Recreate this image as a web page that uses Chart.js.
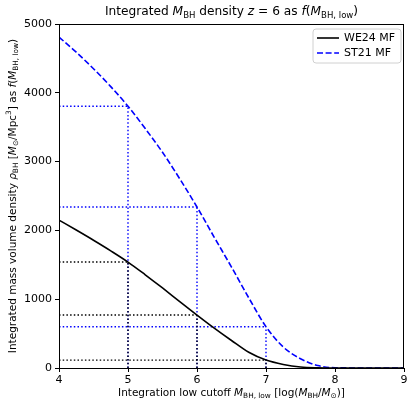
<!DOCTYPE html>
<html>
<head>
<meta charset="utf-8">
<script src="https://cdn.jsdelivr.net/npm/chart.js@4"></script>
<style>
html,body{margin:0;padding:0;background:#fff;}
#wrap{width:415px;height:408px;}
</style>
</head>
<body>
<div id="wrap"><canvas id="c" width="415" height="408"></canvas></div>
<script>
// ---- data ----
const cutoffs = [4, 4.25, 4.5, 4.75, 5, 5.25, 5.5, 5.75, 6, 6.25, 6.5, 6.75, 7, 7.25, 7.5, 7.75, 8, 8.5, 9];
const we24 = [2150, 2005, 1857, 1703, 1540, 1355, 1163, 965, 770, 580, 400, 228, 115, 52, 15, 3, 0, 0, 0];
const st21 = [4810, 4590, 4350, 4090, 3805, 3480, 3135, 2750, 2340, 1900, 1467, 1020, 600, 305, 135, 35, 4, 0, 0];
const markCuts = [5, 6, 7];
const xTicks = [4, 5, 6, 7, 8, 9];
const yTicks = [0, 1000, 2000, 3000, 4000, 5000];
const seriesNames = ['WE24 MF', 'ST21 MF'];

const FONT = "'DejaVu Sans', sans-serif";
const BLACK = '#000000', BLUE = '#0000ff';

function pts(xs, ys){ return xs.map((x,i)=>({x:x, y:ys[i]})); }

const datasets = [
  {label: seriesNames[0], data: pts(cutoffs, we24), borderColor: BLACK, borderWidth: 1.6,
   pointRadius: 0, cubicInterpolationMode: 'monotone', fill: false, order: 0, main: true},
  {label: seriesNames[1], data: pts(cutoffs, st21), borderColor: BLUE, borderWidth: 1.6,
   borderDash: [6, 2.6], pointRadius: 0, cubicInterpolationMode: 'monotone', fill: false, order: 1, main: true}
];
[[we24, BLACK], [st21, BLUE]].forEach(([arr, col], si) => {
  markCuts.forEach(k => {
    const v = arr[cutoffs.indexOf(k)];
    datasets.push({label: '_h', data: [{x: xTicks[0], y: v}, {x: k, y: v}], borderColor: col, borderWidth: 1.4,
      borderDash: [1.5, 2.2], pointRadius: 0, fill: false, order: 3 + si});
    datasets.push({label: '_v', data: [{x: k, y: yTicks[0]}, {x: k, y: v}], borderColor: col, borderWidth: 1.4,
      borderDash: [1.5, 2.2], pointRadius: 0, fill: false, order: 3 + si});
  });
});

// rich text helper
function segFont(s, size){
  const sz = (s.s || s.p) ? size * 0.7 : size;
  return (s.i ? 'italic ' : '') + sz + 'px ' + FONT;
}
function richWidth(ctx, segs, size){
  let w = 0;
  segs.forEach(s => { ctx.font = segFont(s, size); w += ctx.measureText(s.t).width; });
  return w;
}
function drawRich(ctx, segs, cx, cy, size){
  const w = richWidth(ctx, segs, size);
  let x = cx - w / 2;
  ctx.textBaseline = 'middle';
  ctx.textAlign = 'left';
  ctx.fillStyle = '#000';
  segs.forEach(s => {
    ctx.font = segFont(s, size);
    let dy = 0;
    if (s.s) dy = size * 0.28;
    if (s.p) dy = -size * 0.35;
    ctx.fillText(s.t, x, cy + dy);
    x += ctx.measureText(s.t).width;
  });
}

const titleSegs = [{t:'Integrated '},{t:'M',i:1},{t:'BH',s:1},{t:' density '},{t:'z',i:1},{t:' = 6 as '},
  {t:'f',i:1},{t:'('},{t:'M',i:1},{t:'BH, low',s:1},{t:')'}];
const xLabelSegs = [{t:'Integration low cutoff '},{t:'M',i:1},{t:'BH, low',s:1},{t:' [log('},{t:'M',i:1},{t:'BH',s:1},
  {t:'/'},{t:'M',i:1},{t:'\u2299',s:1},{t:')]'}];
const yLabelSegs = [{t:'Integrated mass volume density '},{t:'\u03C1',i:1},{t:'BH',s:1},{t:' ['},{t:'M',i:1},{t:'\u2299',s:1},
  {t:'/Mpc'},{t:'3',p:1},{t:'] as '},{t:'f',i:1},{t:'('},{t:'M',i:1},{t:'BH, low',s:1},{t:')'}];

const decor = {
  id: 'decor',
  afterDatasetsDraw(chart){
    const ctx = chart.ctx, a = chart.chartArea;
    ctx.save();
    // frame
    ctx.strokeStyle = '#000'; ctx.lineWidth = 1;
    ctx.strokeRect(Math.round(a.left) + 0.5, Math.round(a.top) + 0.5, Math.round(a.right - a.left) - 1, Math.round(a.bottom - a.top));
    // legend
    const lx = 313, ly = 29, lw = 88, lh = 34, r = 3;
    ctx.beginPath();
    ctx.moveTo(lx + r, ly); ctx.lineTo(lx + lw - r, ly); ctx.quadraticCurveTo(lx + lw, ly, lx + lw, ly + r);
    ctx.lineTo(lx + lw, ly + lh - r); ctx.quadraticCurveTo(lx + lw, ly + lh, lx + lw - r, ly + lh);
    ctx.lineTo(lx + r, ly + lh); ctx.quadraticCurveTo(lx, ly + lh, lx, ly + lh - r);
    ctx.lineTo(lx, ly + r); ctx.quadraticCurveTo(lx, ly, lx + r, ly); ctx.closePath();
    ctx.fillStyle = 'rgba(255,255,255,0.8)'; ctx.fill();
    ctx.strokeStyle = '#d0d0d0'; ctx.lineWidth = 1; ctx.stroke();
    chart.data.datasets.filter(d => d.main).forEach((d, i) => {
      const y = ly + 9 + i * 15;
      ctx.beginPath();
      ctx.setLineDash(d.borderDash || []);
      ctx.strokeStyle = d.borderColor; ctx.lineWidth = 1.6;
      ctx.moveTo(lx + 4, y); ctx.lineTo(lx + 26, y); ctx.stroke();
      ctx.setLineDash([]);
      ctx.fillStyle = '#000'; ctx.font = '11px ' + FONT; ctx.textBaseline = 'middle'; ctx.textAlign = 'left';
      ctx.fillText(d.label, lx + 31, y);
    });
    ctx.restore();
  },
  afterDraw(chart){
    const ctx = chart.ctx, a = chart.chartArea;
    ctx.save();
    const cx = (a.left + a.right) / 2;
    drawRich(ctx, titleSegs, cx, 12, 12.2);
    drawRich(ctx, xLabelSegs, cx, 393, 10.5);
    ctx.translate(13, (a.top + a.bottom) / 2);
    ctx.rotate(-Math.PI / 2);
    drawRich(ctx, yLabelSegs, 0, 0, 10.5);
    ctx.restore();
  }
};

new Chart(document.getElementById('c'), {
  type: 'line',
  data: {datasets},
  options: {
    responsive: false,
    animation: false,
    layout: {padding: {left: 0, right: 11, top: 24, bottom: 0}},
    plugins: {legend: {display: false}, tooltip: {enabled: false}, title: {display: false}},
    scales: {
      x: {
        type: 'linear', min: xTicks[0], max: xTicks[xTicks.length - 1],
        afterBuildTicks: s => { s.ticks = xTicks.map(v => ({value: v})); },
        afterFit: s => { s.height = 40; },
        grid: {drawOnChartArea: false, drawTicks: true, tickLength: 4, color: '#000', tickWidth: 1},
        border: {display: true, color: '#000', width: 1},
        ticks: {color: '#000', font: {family: FONT, size: 11}, padding: 2, maxRotation: 0,
          callback: v => String(v)}
      },
      y: {
        type: 'linear', min: yTicks[0], max: yTicks[yTicks.length - 1],
        afterBuildTicks: s => { s.ticks = yTicks.map(v => ({value: v})); },
        afterFit: s => { s.width = 59; },
        grid: {drawOnChartArea: false, drawTicks: true, tickLength: 4, color: '#000', tickWidth: 1},
        border: {display: true, color: '#000', width: 1},
        ticks: {color: '#000', font: {family: FONT, size: 11}, padding: 3, callback: v => String(v)}
      }
    }
  },
  plugins: [decor]
});
</script>
</body>
</html>
